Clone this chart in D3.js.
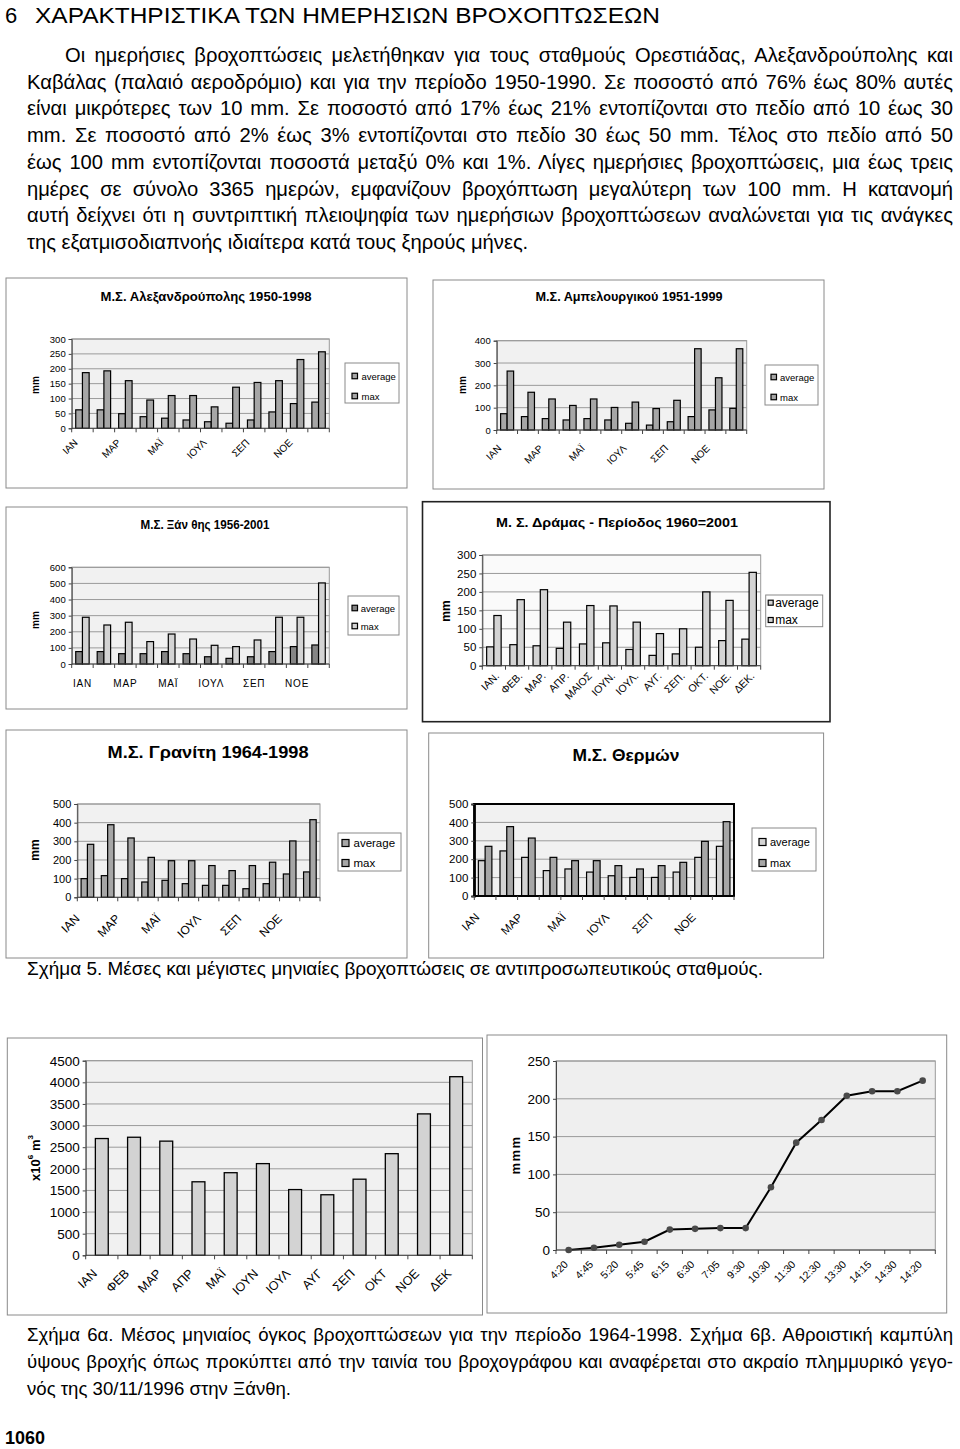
<!DOCTYPE html>
<html><head><meta charset="utf-8">
<script src="https://cdnjs.cloudflare.com/ajax/libs/d3/7.8.5/d3.min.js"></script>
<style>body{margin:0;background:#fff}svg{display:block}</style>
</head><body>
<svg id="page" width="960" height="1449"></svg>
<script>
// ---------------- DATA ----------------
const months = ["ΙΑΝ","ΦΕΒ","ΜΑΡ","ΑΠΡ","ΜΑΪ","ΙΟΥΝ","ΙΟΥΛ","ΑΥΓ","ΣΕΠ","ΟΚΤ","ΝΟΕ","ΔΕΚ"];
const monthsDrama = ["ΙΑΝ.","ΦΕΒ.","ΜΑΡ.","ΑΠΡ.","ΜΑΙΟΣ","ΙΟΥΝ.","ΙΟΥΛ.","ΑΥΓ.","ΣΕΠ.","ΟΚΤ.","ΝΟΕ.","ΔΕΚ."];
const seriesNames = ["average","max"];

const alexAvg = [62,62,49,39,34,28,22,17,28,55,83,88];
const alexMax = [187,193,160,95,110,110,72,138,154,160,231,257];

const ampAvg = [73,60,51,45,51,45,30,22,37,60,90,97];
const ampMax = [264,169,139,110,139,101,125,96,133,364,234,364];

const xanAvg = [77,77,64,64,77,64,45,35,45,77,108,118];
const xanMax = [290,242,259,139,186,155,116,108,149,290,290,503];

const dramaAvg = [51,57,54,47,59,62,44,28,32,50,68,72];
const dramaMax = [136,179,206,118,163,162,118,87,100,200,177,253];

const granAvg = [100,116,100,82,91,73,64,64,46,73,125,136];
const granMax = [284,389,318,214,196,196,170,143,170,188,302,416];

const thermAvg = [192,245,210,138,147,130,110,101,101,130,210,270];
const thermMax = [270,377,315,210,192,192,165,147,165,183,297,404];

const volumeMonthly = [2700,2730,2640,1700,1910,2120,1520,1400,1760,2350,3270,4130];

const rainTimes = ["4:20","4:45","5:20","5:45","6:15","6:30","7:05","9:30","10:30","11:30","12:30","13:30","14:15","14:30","14:20"];
const rainCumulative = [0,3,7,11,27,28,29,29,83,142,172,204,210,210,224];

const headingNum = "6";
const headingText = "ΧΑΡΑΚΤΗΡΙΣΤΙΚΑ ΤΩΝ ΗΜΕΡΗΣΙΩΝ ΒΡΟΧΟΠΤΩΣΕΩΝ";
const paragraphLines = [
 "Οι ημερήσιες βροχοπτώσεις μελετήθηκαν για τους σταθμούς Ορεστιάδας, Αλεξανδρούπολης και",
 "Καβάλας (παλαιό αεροδρόμιο) και για την περίοδο 1950-1990. Σε ποσοστό από 76% έως 80% αυτές",
 "είναι μικρότερες των 10 mm. Σε ποσοστό από 17% έως 21% εντοπίζονται στο πεδίο από 10 έως 30",
 "mm. Σε ποσοστό από 2% έως 3% εντοπίζονται στο πεδίο 30 έως 50 mm. Τέλος στο πεδίο από 50",
 "έως 100 mm εντοπίζονται ποσοστά μεταξύ 0% και 1%. Λίγες ημερήσιες βροχοπτώσεις, μια έως τρεις",
 "ημέρες σε σύνολο 3365 ημερών, εμφανίζουν βροχόπτωση μεγαλύτερη των 100 mm. Η κατανομή",
 "αυτή δείχνει ότι η συντριπτική πλειοψηφία των ημερήσιων βροχοπτώσεων αναλώνεται για τις ανάγκες",
 "της εξατμισοδιαπνοής ιδιαίτερα κατά τους ξηρούς μήνες."
];
const caption5 = "Σχήμα 5. Μέσες και μέγιστες μηνιαίες βροχοπτώσεις σε αντιπροσωπευτικούς σταθμούς.";
const caption6Lines = [
 "Σχήμα 6α. Μέσος μηνιαίος όγκος βροχοπτώσεων για την περίοδο 1964-1998. Σχήμα 6β. Αθροιστική καμπύλη",
 "ύψους βροχής όπως προκύπτει από την ταινία του βροχογράφου και αναφέρεται στο ακραίο πλημμυρικό γεγο-",
 "νός της 30/11/1996 στην Ξάνθη."
];
const pageNumber = "1060";

// ---------------- DRAWING ----------------
const SANS = "'Liberation Sans', Arial, Helvetica, sans-serif";
const svg = d3.select("#page");

function txt(x, y, s, o) {
  const t = svg.append("text").attr("x", x).attr("y", y)
    .attr("font-family", SANS).attr("font-size", o.size).attr("fill", "#000")
    .text(s);
  if (o.bold) t.attr("font-weight", "bold");
  if (o.anchor) t.attr("text-anchor", o.anchor);
  if (o.len) t.attr("textLength", o.len).attr("lengthAdjust", o.adjust || "spacing");
  return t;
}
// justified line: distribute extra width over word gaps
function justified(x, y, s, width, size) {
  const t = txt(x, y, s, {size});
  const natural = t.node().getComputedTextLength();
  const gaps = (s.match(/ /g) || []).length;
  if (gaps > 0) t.attr("word-spacing", (width - natural) / gaps);
  return t;
}

// heading + paragraph
txt(5, 23, headingNum, {size: 22});
txt(35, 23, headingText, {size: 22, len: 625, adjust: "spacingAndGlyphs"});
const paraStarts = [65,27,27,27,27,27,27,27];
paragraphLines.forEach((s, i) => {
  const yy = 62 + i * 26.7;
  if (i < paragraphLines.length - 1) justified(paraStarts[i], yy, s, 953 - paraStarts[i], 20.2);
  else txt(paraStarts[i], yy, s, {size: 20.2});
});

function frame(f, stroke, w) {
  svg.append("rect").attr("x", f[0]).attr("y", f[1]).attr("width", f[2] - f[0]).attr("height", f[3] - f[1])
    .attr("fill", "#fff").attr("stroke", stroke || "#8a8a8a").attr("stroke-width", w || 1);
}

function chartTitle(t, cx, cy, size, len) {
  svg.append("text").attr("x", cx).attr("y", cy).attr("text-anchor", "middle").attr("dominant-baseline", "central")
    .attr("font-family", SANS).attr("font-weight", "bold").attr("font-size", size)
    .attr("textLength", len).attr("lengthAdjust", "spacingAndGlyphs").text(t);
}

function yLabel(s, x, y, size, spacing) {
  const t = svg.append("text").attr("transform", `translate(${x},${y}) rotate(-90)`)
    .attr("text-anchor", "middle").attr("dominant-baseline", "central")
    .attr("font-family", SANS).attr("font-weight", "bold").attr("font-size", size).text(s);
  if (spacing) t.attr("letter-spacing", spacing);
  return t;
}

function plotBase(g, c, y, ticks) {
  const [l, t, r, b] = c.plot;
  g.append("rect").attr("x", l).attr("y", t).attr("width", r - l).attr("height", b - t).attr("fill", c.bg || "#f1f1f1");
  g.append("g").selectAll("line").data(ticks.slice(1)).join("line")
    .attr("x1", l).attr("x2", r).attr("y1", d => y(d)).attr("y2", d => y(d))
    .attr("stroke", "#9a9a9a").attr("stroke-width", 1);
  g.append("rect").attr("x", l).attr("y", t).attr("width", r - l).attr("height", b - t)
    .attr("fill", "none").attr("stroke", c.border || "#9a9a9a").attr("stroke-width", c.borderW || 1);
}

function yAxis(g, c, y, ticks) {
  const [l, t, r, b] = c.plot;
  const ax = g.append("g").attr("transform", `translate(${l},0)`)
    .call(d3.axisLeft(y).tickValues(ticks).tickSize(3).tickPadding(3).tickFormat(d3.format("d")));
  ax.attr("font-family", SANS).attr("font-size", c.tickSize);
  ax.select(".domain").attr("stroke", c.axisColor || "#444").attr("stroke-width", c.axisW || 1);
  ax.selectAll(".tick line").attr("stroke", "#444");
  ax.selectAll(".tick text").attr("fill", "#000");
}

function xAxisCats(g, c, x, n) {
  const [l, t, r, b] = c.plot;
  g.append("line").attr("x1", l).attr("x2", r).attr("y1", b).attr("y2", b).attr("stroke", c.axisColor || "#444").attr("stroke-width", c.axisW || 1);
  g.append("g").selectAll("line").data(d3.range(n + 1)).join("line")
    .attr("x1", i => i < n ? x(i) : x.range()[1]).attr("x2", i => i < n ? x(i) : x.range()[1])
    .attr("y1", b).attr("y2", b + 4).attr("stroke", "#444");
}

function catLabels(g, c, cx, labels, every) {
  const [l, t, r, b] = c.plot;
  const items = labels.map((s, i) => ({s, i})).filter(d => d.i % every === 0);
  if (c.flat) {
    g.append("g").selectAll("text").data(items).join("text")
      .attr("x", d => cx(d.i)).attr("y", c.flat.y).attr("text-anchor", "middle").attr("dominant-baseline", "central")
      .attr("font-family", SANS).attr("font-size", c.labelSize).attr("letter-spacing", c.flat.ls || 0).text(d => d.s);
  } else {
    g.append("g").selectAll("text").data(items).join("text")
      .attr("transform", d => `translate(${cx(d.i) + c.rot.dx},${b + c.rot.dy}) rotate(-45)`)
      .attr("text-anchor", "end")
      .attr("font-family", SANS).attr("font-size", c.labelSize).text(d => d.s);
  }
}

function legend(c) {
  const [x0, y0, x1, y1] = c.legend.box;
  svg.append("rect").attr("x", x0).attr("y", y0).attr("width", x1 - x0).attr("height", y1 - y0)
    .attr("fill", "#fff").attr("stroke", "#8a8a8a");
  const entries = seriesNames.map((nm, i) => ({nm, fill: i === 0 ? c.avgFill : c.maxFill, y: c.legend.ys[i]}));
  const m = c.legend.m;
  const lg = svg.append("g");
  lg.selectAll("rect").data(entries).join("rect")
    .attr("x", x0 + c.legend.mx).attr("y", d => d.y - m / 2).attr("width", m).attr("height", m)
    .attr("fill", d => d.fill).attr("stroke", "#000").attr("stroke-width", 1.2);
  lg.selectAll("text").data(entries).join("text")
    .attr("x", x0 + c.legend.tx).attr("y", d => d.y).attr("dominant-baseline", "central")
    .attr("font-family", SANS).attr("font-size", c.legend.size).text(d => d.nm);
}

function groupedBars(c) {
  frame(c.frame, c.frameStroke, c.frameW);
  chartTitle(c.title, c.titlePos[0], c.titlePos[1], c.titleSize, c.titleLen);
  const [l, t, r, b] = c.plot;
  const n = c.avg.length;
  const g = svg.append("g");
  const x = d3.scaleBand().domain(d3.range(n)).range([l, r]);
  const xs = d3.scaleBand().domain([0, 1]).range([0, x.bandwidth()]).paddingOuter(0.6);
  const y = d3.scaleLinear().domain([0, c.yMax]).range([b, t]);
  const ticks = d3.range(0, c.yMax + c.yStep / 2, c.yStep);
  plotBase(g, c, y, ticks);
  [c.avg, c.max].forEach((vals, si) => {
    g.append("g").selectAll("rect").data(vals).join("rect")
      .attr("x", (d, i) => x(i) + xs(si)).attr("width", xs.bandwidth())
      .attr("y", d => y(d)).attr("height", d => b - y(d))
      .attr("fill", si === 0 ? c.avgFill : c.maxFill).attr("stroke", "#000").attr("stroke-width", 1.2);
  });
  if (c.border && c.borderW > 1) {
    g.append("rect").attr("x", l).attr("y", t).attr("width", r - l).attr("height", b - t)
      .attr("fill", "none").attr("stroke", c.border).attr("stroke-width", c.borderW);
  }
  yAxis(g, c, y, ticks);
  xAxisCats(g, c, x, n);
  catLabels(g, c, i => x(i) + x.bandwidth() / 2, c.cats, c.every);
  if (c.yLab) yLabel(c.yLab.s, c.yLab.x, c.yLab.y, c.yLab.size);
  legend(c);
}

const GRAY = "#a6a6a6", LIGHT = "#d3d3d3", DARK = "#858585";

groupedBars({
  frame: [6, 278, 407, 488],
  title: "Μ.Σ. Αλεξανδρούπολης 1950-1998", titlePos: [206, 297], titleSize: 12.5, titleLen: 211,
  plot: [71.7, 339, 329.3, 428.3], yMax: 300, yStep: 50, tickSize: 9.5,
  avg: alexAvg, max: alexMax, avgFill: GRAY, maxFill: GRAY,
  cats: months, every: 2, labelSize: 10, rot: {dx: -4, dy: 15},
  yLab: {s: "mm", x: 35, y: 385, size: 10},
  legend: {box: [345, 363, 399, 403], ys: [376, 396], mx: 7, m: 5.5, tx: 16.5, size: 9.5}
});

groupedBars({
  frame: [433, 280, 824, 489],
  title: "Μ.Σ. Αμπελουργικού 1951-1999", titlePos: [629, 297], titleSize: 12.5, titleLen: 187,
  plot: [496.7, 340.7, 746.7, 430], yMax: 400, yStep: 100, tickSize: 9.5,
  avg: ampAvg, max: ampMax, avgFill: GRAY, maxFill: GRAY,
  cats: months, every: 2, labelSize: 10, rot: {dx: -5, dy: 19},
  yLab: {s: "mm", x: 462, y: 385, size: 10},
  legend: {box: [765, 365, 818, 405], ys: [377, 397], mx: 6, m: 5.5, tx: 15, size: 9.5}
});

groupedBars({
  frame: [6, 507, 407, 709],
  title: "Μ.Σ. Ξάν θης 1956-2001", titlePos: [205, 525], titleSize: 12, titleLen: 129,
  plot: [71.7, 567.3, 329.3, 664], yMax: 600, yStep: 100, tickSize: 9.5,
  avg: xanAvg, max: xanMax, avgFill: DARK, maxFill: LIGHT,
  cats: months, every: 2, labelSize: 10, flat: {y: 683, ls: 0.8},
  yLab: {s: "mm", x: 35, y: 620, size: 10},
  legend: {box: [348, 596, 399, 635], ys: [608, 626], mx: 4, m: 5.5, tx: 12.7, size: 9.5}
});

groupedBars({
  frame: [422.5, 501.7, 830, 721.7], frameStroke: "#222", frameW: 1.6,
  title: "Μ. Σ. Δράμας - Περίοδος 1960=2001", titlePos: [617, 523], titleSize: 12.5, titleLen: 242,
  plot: [482.3, 555, 760.7, 665.7], yMax: 300, yStep: 50, tickSize: 11.5, bg: "#fafafa",
  avg: dramaAvg, max: dramaMax, avgFill: LIGHT, maxFill: LIGHT,
  cats: monthsDrama, every: 1, labelSize: 10.5, rot: {dx: 6, dy: 11},
  yLab: {s: "mm", x: 446, y: 611, size: 12},
  legend: {box: [765.7, 595, 822.7, 626.7], ys: [602.7, 620], mx: 2.5, m: 5, tx: 9.5, size: 12}
});

groupedBars({
  frame: [6, 730, 407, 958],
  title: "Μ.Σ. Γρανίτη 1964-1998", titlePos: [208, 752], titleSize: 17, titleLen: 201,
  plot: [77.3, 804, 320, 897.3], yMax: 500, yStep: 100, tickSize: 11,
  avg: granAvg, max: granMax, avgFill: GRAY, maxFill: GRAY,
  cats: months, every: 2, labelSize: 12, rot: {dx: -7, dy: 22},
  yLab: {s: "mm", x: 35, y: 850, size: 12},
  legend: {box: [338, 833, 401, 871], ys: [843, 863], mx: 4, m: 7, tx: 15.5, size: 11.5}
});

groupedBars({
  frame: [428.7, 733, 823.6, 958],
  title: "Μ.Σ. Θερμών", titlePos: [626, 755], titleSize: 17, titleLen: 107,
  plot: [474.3, 804, 734, 896], yMax: 500, yStep: 100, tickSize: 11.5,
  border: "#000", borderW: 2, axisColor: "#000", axisW: 2,
  avg: thermAvg, max: thermMax, avgFill: LIGHT, maxFill: GRAY,
  cats: months, every: 2, labelSize: 11.5, rot: {dx: -5, dy: 22},
  legend: {box: [752, 828, 816, 871], ys: [842, 863], mx: 7, m: 7, tx: 18, size: 11}
});

txt(27, 974.5, caption5, {size: 18, len: 736, adjust: "spacingAndGlyphs"});

// ---- Chart 6a: monthly volume ----
(function () {
  const c = {plot: [85.7, 1060.7, 472.3, 1255.3], tickSize: 13.5, labelSize: 12.5, rot: {dx: -4, dy: 19}, bg: "#f1f1f1"};
  frame([7.3, 1038, 482.5, 1315]);
  const [l, t, r, b] = c.plot;
  const g = svg.append("g");
  const n = volumeMonthly.length;
  const x = d3.scaleBand().domain(d3.range(n)).range([l, r]);
  const xb = d3.scaleBand().domain(d3.range(n)).range([l, r]).paddingInner(0.6).paddingOuter(0.3);
  const y = d3.scaleLinear().domain([0, 4500]).range([b, t]);
  const ticks = d3.range(0, 4501, 500);
  plotBase(g, c, y, ticks);
  g.append("g").selectAll("rect").data(volumeMonthly).join("rect")
    .attr("x", (d, i) => xb(i)).attr("width", xb.bandwidth())
    .attr("y", d => y(d)).attr("height", d => b - y(d))
    .attr("fill", LIGHT).attr("stroke", "#000").attr("stroke-width", 1.3);
  yAxis(g, c, y, ticks);
  xAxisCats(g, c, x, n);
  catLabels(g, c, i => x(i) + x.bandwidth() / 2, months, 1);
  const yl = svg.append("text").attr("transform", "translate(35,1158) rotate(-90)")
    .attr("text-anchor", "middle").attr("dominant-baseline", "central")
    .attr("font-family", SANS).attr("font-weight", "bold").attr("font-size", 13);
  yl.append("tspan").text("x10");
  yl.append("tspan").attr("dy", -5).attr("font-size", 8).text("6");
  yl.append("tspan").attr("dy", 5).text(" m");
  yl.append("tspan").attr("dy", -5).attr("font-size", 8).text("3");
})();

// ---- Chart 6b: cumulative rainfall ----
(function () {
  const c = {plot: [556, 1061, 935.3, 1250], tickSize: 13.5, labelSize: 10.5, rot: {dx: 0, dy: 15}, bg: "#efefef"};
  frame([487, 1035, 946.7, 1313]);
  const [l, t, r, b] = c.plot;
  const g = svg.append("g");
  const n = rainCumulative.length;
  const x = d3.scaleBand().domain(d3.range(n)).range([l, r]);
  const xp = d3.scalePoint().domain(d3.range(n)).range([l, r]).padding(0.5);
  const y = d3.scaleLinear().domain([0, 250]).range([b, t]);
  const ticks = d3.range(0, 251, 50);
  plotBase(g, c, y, ticks);
  g.append("path").datum(rainCumulative)
    .attr("d", d3.line().x((d, i) => xp(i)).y(d => y(d)))
    .attr("fill", "none").attr("stroke", "#000").attr("stroke-width", 2);
  g.append("g").selectAll("circle").data(rainCumulative).join("circle")
    .attr("cx", (d, i) => xp(i)).attr("cy", d => y(d)).attr("r", 3.3).attr("fill", "#4a4a4a");
  yAxis(g, c, y, ticks);
  xAxisCats(g, c, x, n);
  catLabels(g, c, i => xp(i), rainTimes, 1);
  yLabel("mmm", 515, 1155, 13, 1.5);
})();

caption6Lines.forEach((s, i) => {
  const yy = 1340.5 + i * 27;
  if (i < 2) justified(27, yy, s, 926, 18.6);
  else txt(27, yy, s, {size: 18.6});
});
txt(5, 1443.5, pageNumber, {size: 18, bold: true});
</script>
</body></html>
